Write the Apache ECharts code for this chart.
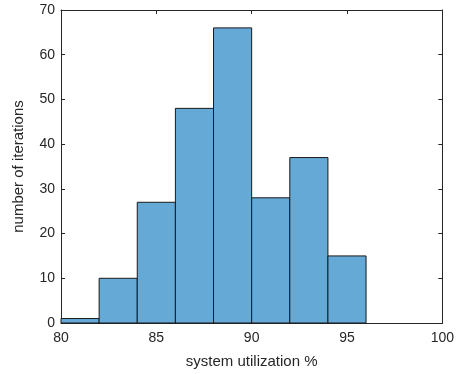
<!DOCTYPE html>
<html>
<head>
<meta charset="utf-8">
<script src="https://cdn.jsdelivr.net/npm/echarts@6/dist/echarts.min.js"></script>
<style>
  html, body { margin: 0; padding: 0; background: #fff; }
  #chart { width: 457px; height: 374px; }
</style>
</head>
<body>
<div id="chart"></div>
<script>
  // bin edges and counts of the histogram
  var binStart = [80, 82, 84, 86, 88, 90, 92, 94];
  var binEnd = [82, 84, 86, 88, 90, 92, 94, 96];
  var counts = [1, 10, 27, 48, 66, 28, 37, 15];
  var xTicks = [80, 85, 90, 95, 100];

  var axisColor = '#262626';
  var font = 'Liberation Sans, Arial, sans-serif';

  var data = binStart.map(function (s, i) {
    return [s, binEnd[i], counts[i]];
  });

  var chart = echarts.init(document.getElementById('chart'));

  var baseX = {
    type: 'value',
    min: xTicks[0],
    max: xTicks[xTicks.length - 1],
    interval: 5,
    axisLine: { show: true, onZero: false, lineStyle: { color: axisColor, width: 1 } },
    axisTick: { show: true, inside: true, length: 4, lineStyle: { color: axisColor } },
    splitLine: { show: false }
  };
  var baseY = {
    type: 'value',
    min: 0,
    max: 70,
    interval: 10,
    axisLine: { show: true, onZero: false, lineStyle: { color: axisColor, width: 1 } },
    axisTick: { show: true, inside: true, length: 4, lineStyle: { color: axisColor } },
    splitLine: { show: false }
  };

  chart.setOption({
    animation: false,
    grid: { left: 61, right: 13, top: 10, bottom: 50 },
    xAxis: [
      Object.assign({}, baseX, {
        position: 'bottom',
        name: 'system utilization %',
        nameLocation: 'middle',
        nameGap: 31,
        nameTextStyle: { color: axisColor, fontSize: 15, fontFamily: font },
        axisLabel: { color: axisColor, fontSize: 14, fontFamily: font, margin: 8 }
      }),
      Object.assign({}, baseX, {
        position: 'top',
        axisLabel: { show: false }
      })
    ],
    yAxis: [
      Object.assign({}, baseY, {
        position: 'left',
        name: 'number of iterations',
        nameLocation: 'middle',
        nameGap: 35,
        nameTextStyle: { color: axisColor, fontSize: 15, fontFamily: font },
        axisLabel: { color: axisColor, fontSize: 14, fontFamily: font, margin: 6 }
      }),
      Object.assign({}, baseY, {
        position: 'right',
        axisLabel: { show: false }
      })
    ],
    series: [{
      type: 'custom',
      xAxisIndex: 0,
      yAxisIndex: 0,
      data: data,
      encode: { x: [0, 1], y: 2 },
      renderItem: function (params, api) {
        var p0 = api.coord([api.value(0), api.value(2)]);
        var p1 = api.coord([api.value(1), 0]);
        return {
          type: 'rect',
          shape: { x: p0[0], y: p0[1], width: p1[0] - p0[0], height: p1[1] - p0[1] },
          style: { fill: '#65a9d7', stroke: '#1a1a1a', lineWidth: 1 }
        };
      }
    }]
  });
</script>
</body>
</html>
